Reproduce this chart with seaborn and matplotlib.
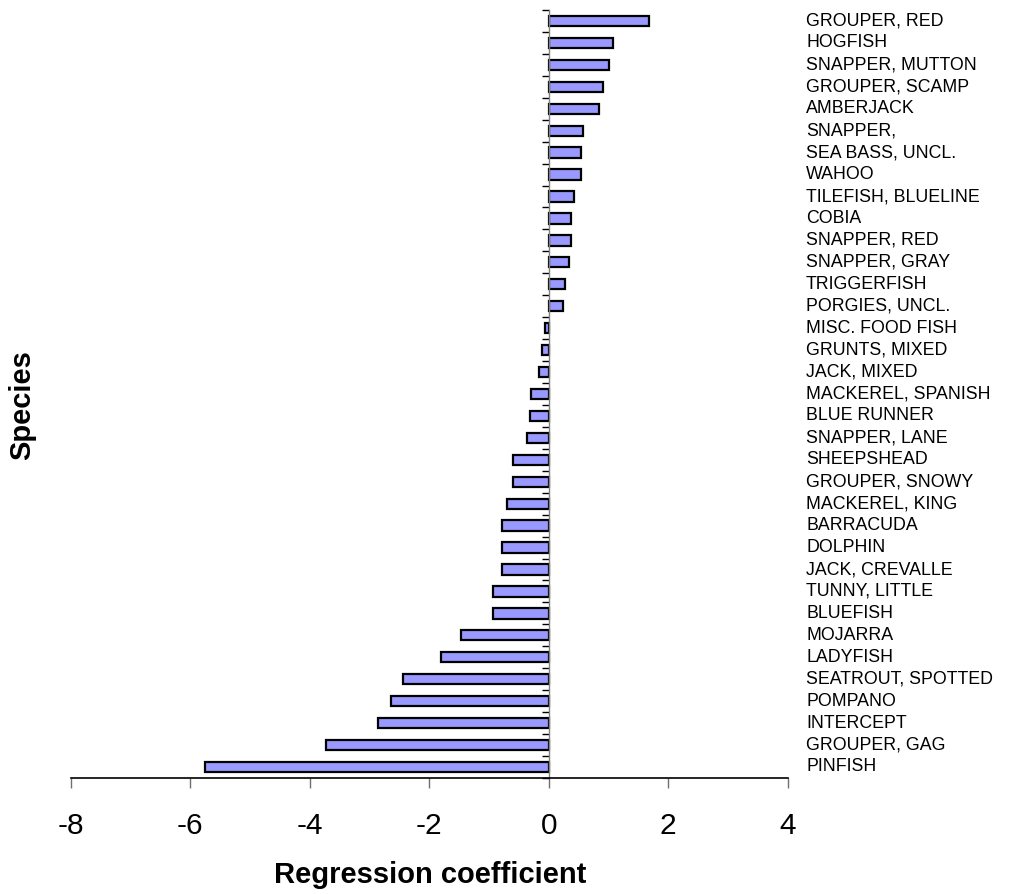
import matplotlib
matplotlib.use("Agg")
import matplotlib.pyplot as plt
import seaborn as sns
import numpy as np
import pandas as pd

species = ["GROUPER, RED", "HOGFISH", "SNAPPER, MUTTON", "GROUPER, SCAMP", "AMBERJACK",
           "SNAPPER,", "SEA BASS, UNCL.", "WAHOO", "TILEFISH, BLUELINE", "COBIA",
           "SNAPPER, RED", "SNAPPER, GRAY", "TRIGGERFISH", "PORGIES, UNCL.", "MISC. FOOD FISH",
           "GRUNTS, MIXED", "JACK, MIXED", "MACKEREL, SPANISH", "BLUE RUNNER", "SNAPPER, LANE",
           "SHEEPSHEAD", "GROUPER, SNOWY", "MACKEREL, KING", "BARRACUDA", "DOLPHIN",
           "JACK, CREVALLE", "TUNNY, LITTLE", "BLUEFISH", "MOJARRA", "LADYFISH",
           "SEATROUT, SPOTTED", "POMPANO", "INTERCEPT", "GROUPER, GAG", "PINFISH"]
coefs = [1.68, 1.07, 1.00, 0.90, 0.84,
         0.57, 0.535, 0.535, 0.43, 0.37,
         0.37, 0.335, 0.27, 0.23, -0.07,
         -0.11, -0.17, -0.30, -0.31, -0.37,
         -0.60, -0.60, -0.70, -0.78, -0.78,
         -0.78, -0.94, -0.94, -1.47, -1.81,
         -2.44, -2.64, -2.85, -3.72, -5.76]
x_ticks = [-8, -6, -4, -2, 0, 2, 4]

sns.set_theme(style="white")
plt.rcParams['font.family'] = ['Liberation Sans', 'DejaVu Sans']
plt.rcParams['axes.unicode_minus'] = False
plt.rcParams['text.color'] = 'black'
plt.rcParams['xtick.labelcolor'] = 'black'
plt.rcParams['ytick.labelcolor'] = 'black'

df = pd.DataFrame({"species": species, "coef": coefs})

fig = plt.figure(figsize=(10.10, 8.94), dpi=100)
ax = fig.add_axes([0.07, 0.1298, 0.71, 0.859])

sns.barplot(data=df, x="coef", y="species", order=species, orient="h",
            color="#9999ff", saturation=1, width=0.47,
            edgecolor="black", linewidth=1.6, ax=ax)

n = len(species)
ax.set_xlim(-8, 4)
ax.set_ylim(n - 0.5, -0.5)
ax.set_xticks(x_ticks)
ax.set_xticklabels([str(t) for t in x_ticks], fontsize=21.5, color="black")
ax.set_yticks(np.arange(-0.5, n, 1.0))
ax.set_yticklabels([])

for sp in ["top", "right"]:
    ax.spines[sp].set_visible(False)
ax.spines["left"].set_position(("data", 0))
ax.spines["left"].set_color("#808080")
ax.spines["left"].set_linewidth(1.0)
ax.spines["bottom"].set_color("black")
ax.spines["bottom"].set_linewidth(1.2)

ax.tick_params(axis="x", direction="out", length=7.2, width=1.0, color="#707070",
               pad=17, bottom=True)
ax.tick_params(axis="y", direction="out", length=4.8, width=1.0, color="black",
               left=True)

ax.set_xlabel("")
ax.set_ylabel("")

trans = ax.get_yaxis_transform()
for i, name in enumerate(species):
    ax.text(1.0255, i, name, transform=trans, ha="left", va="center",
            fontsize=12.8, color="black", clip_on=False)

fig.text(430 / 1010, 1 - 883 / 894, "Regression coefficient", ha="center",
         va="baseline", fontsize=21, fontweight="bold", color="black")
fig.text(22.5 / 1010, 1 - 405 / 894, "Species", ha="center", va="center",
         rotation=90, fontsize=21, fontweight="bold", color="black")

fig.savefig("out.png", dpi=100)
